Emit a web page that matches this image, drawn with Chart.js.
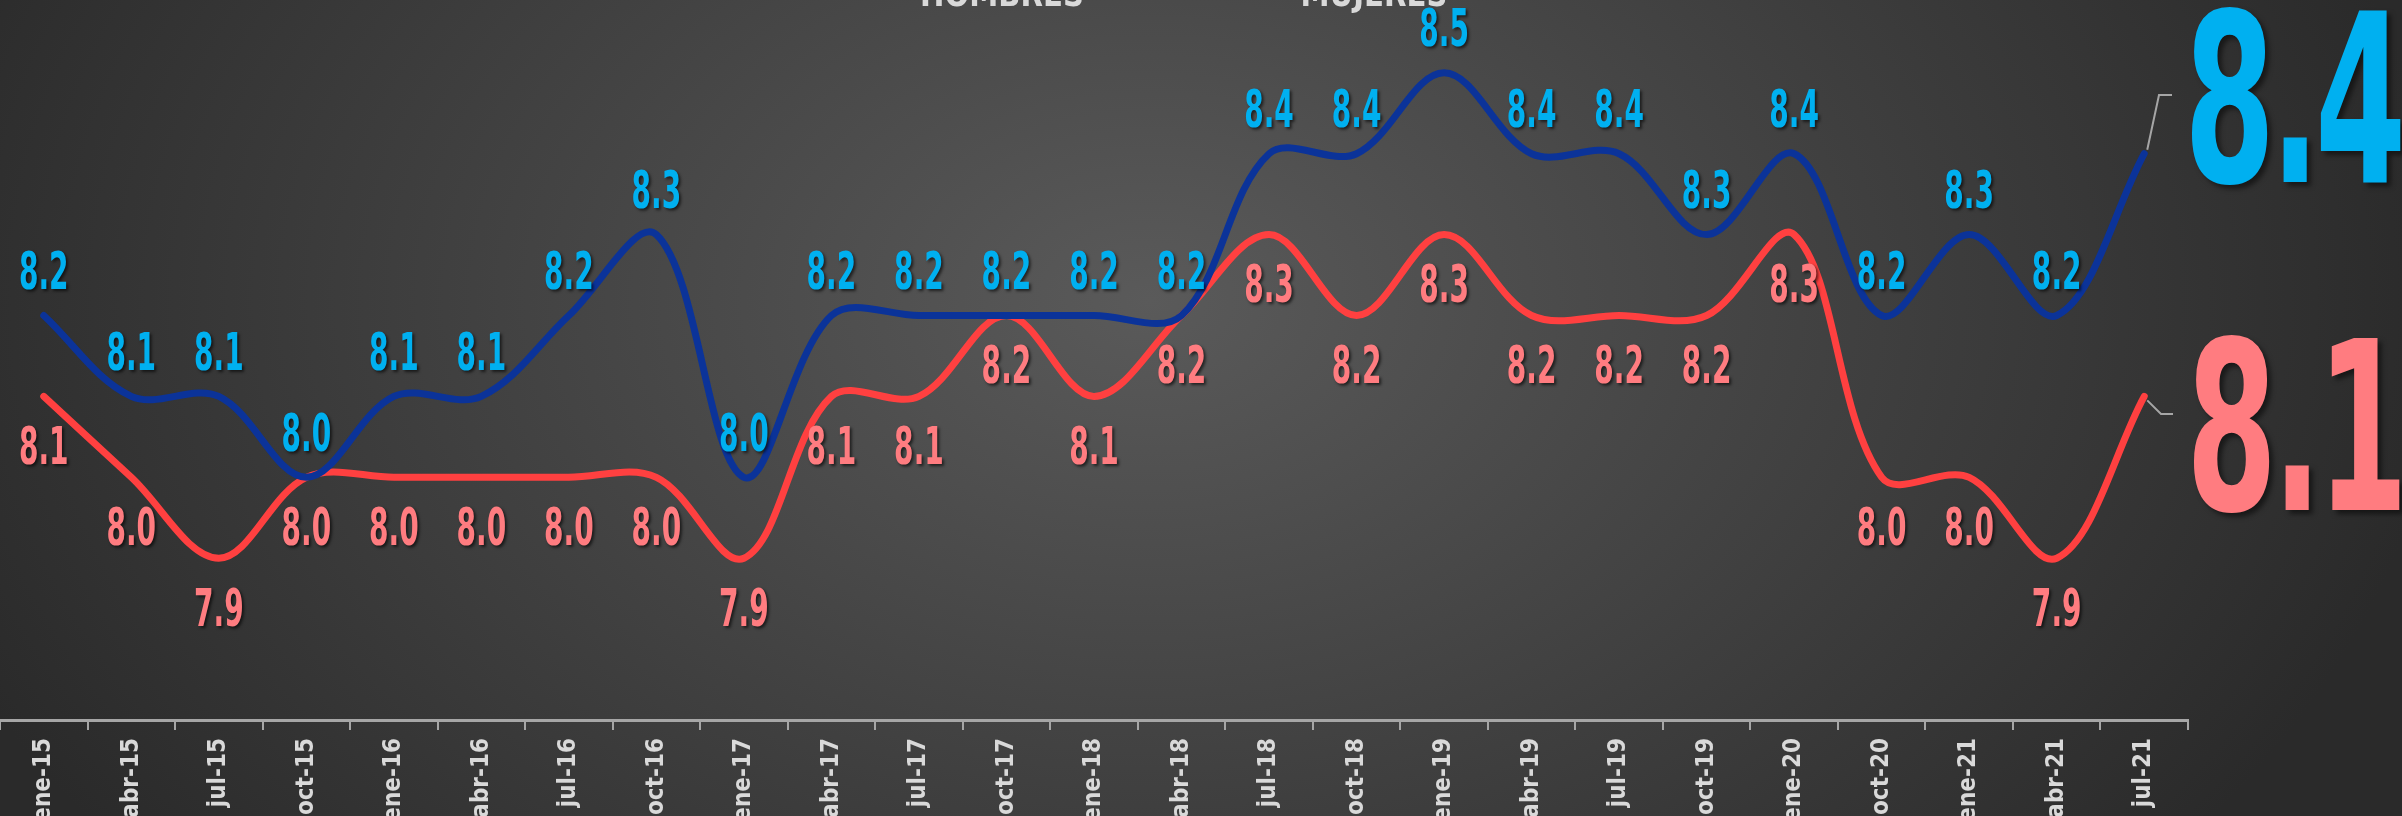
<!DOCTYPE html>
<html>
<head>
<meta charset="utf-8">
<script src="https://cdn.jsdelivr.net/npm/chart.js@4"></script>
<style>
html, body { margin: 0; padding: 0; }
body {
  width: 2402px; height: 816px; overflow: hidden;
  background: radial-gradient(ellipse 1300px 900px at 1150px 300px, #5a5a5a 0%, #2a2a2a 100%);
}
#wrap { position: relative; width: 2402px; height: 816px; }
</style>
</head>
<body>
<div id="wrap"><canvas id="grafica"></canvas></div>
<script>
const fechas = ['ene-15', 'abr-15', 'jul-15', 'oct-15', 'ene-16', 'abr-16', 'jul-16', 'oct-16',
  'ene-17', 'abr-17', 'jul-17', 'oct-17', 'ene-18', 'abr-18', 'jul-18', 'oct-18',
  'ene-19', 'abr-19', 'jul-19', 'oct-19', 'ene-20', 'oct-20', 'ene-21', 'abr-21', 'jul-21']
const hombres = [8.2, 8.1, 8.1, 8.0, 8.1, 8.1, 8.2, 8.3, 8.0, 8.2, 8.2, 8.2, 8.2,
  8.2, 8.4, 8.4, 8.5, 8.4, 8.4, 8.3, 8.4, 8.2, 8.3, 8.2, 8.4]
const mujeres = [8.1, 8.0, 7.9, 8.0, 8.0, 8.0, 8.0, 8.0, 7.9, 8.1, 8.1, 8.2, 8.1,
  8.2, 8.3, 8.2, 8.3, 8.2, 8.2, 8.2, 8.3, 8.0, 8.0, 7.9, 8.1]
const nombres = ['HOMBRES', 'MUJERES']

const fuente = "'DejaVu Sans Condensed', 'DejaVu Sans', sans-serif"
const azulLinea = '#0b3399'
const rojoLinea = '#ff4040'
const azulTexto = '#00b0f0'
const rojoTexto = '#ff7c80'

// texto estrecho tipo Agency
function textoEstrecho(ctx, t, x, y, sx, esp) {
  ctx.save()
  ctx.translate(x, y)
  ctx.scale(sx, 1)
  ctx.letterSpacing = esp + 'px'
  ctx.fillText(t, 0, 0)
  ctx.restore()
}

const etiquetas = {
  id: 'etiquetas',
  afterDatasetsDraw(chart) {
    const ctx = chart.ctx
    const n = fechas.length - 1
    ctx.save()
    ctx.shadowColor = 'rgba(0,0,0,0.6)'
    ctx.shadowOffsetX = 2
    ctx.shadowOffsetY = 2
    ctx.shadowBlur = 3
    ctx.textAlign = 'center'
    ctx.textBaseline = 'middle'
    ctx.font = 'bold 52px ' + fuente
    chart.data.datasets.forEach((ds, i) => {
      const meta = chart.getDatasetMeta(i)
      ctx.fillStyle = i === 0 ? azulTexto : rojoTexto
      meta.data.forEach((p, j) => {
        if (j === n) return
        const dy = i === 0 ? -40 : 54
        textoEstrecho(ctx, ds.data[j].toFixed(1), p.x, p.y + dy, 0.6, 0)
      })
    })

    // valores grandes a la derecha
    const pa = chart.getDatasetMeta(0).data[n]
    const pr = chart.getDatasetMeta(1).data[n]
    ctx.shadowColor = 'rgba(0,0,0,0.5)'
    ctx.shadowOffsetX = 4
    ctx.shadowOffsetY = 4
    ctx.shadowBlur = 5
    ctx.textAlign = 'left'
    ctx.textBaseline = 'alphabetic'
    ctx.font = 'bold 235px ' + fuente
    ctx.fillStyle = azulTexto
    textoEstrecho(ctx, hombres[n].toFixed(1), 2184, 182, 0.62, -8)
    ctx.fillStyle = rojoTexto
    textoEstrecho(ctx, mujeres[n].toFixed(1), 2186, 510, 0.62, -8)

    ctx.shadowColor = 'transparent'
    ctx.strokeStyle = '#a6a6a6'
    ctx.lineWidth = 2
    ctx.beginPath()
    ctx.moveTo(pa.x + 3, pa.y - 4)
    ctx.lineTo(2159, 95)
    ctx.lineTo(2172, 95)
    ctx.moveTo(pr.x + 3, pr.y + 4)
    ctx.lineTo(2161, 414)
    ctx.lineTo(2173, 414)
    ctx.stroke()

    // leyenda cortada arriba
    ctx.fillStyle = '#d9d9d9'
    ctx.textAlign = 'center'
    ctx.font = 'bold 36px ' + fuente
    textoEstrecho(ctx, nombres[0], 1002, 6, 0.9, 0)
    textoEstrecho(ctx, nombres[1], 1374, 6, 0.9, 0)
    ctx.restore()
  }
}

const grafica = new Chart(document.getElementById('grafica'), {
  type: 'line',
  data: {
    labels: fechas,
    datasets: [{
      label: nombres[0],
      data: hombres,
      borderColor: azulLinea,
      borderWidth: 7,
      tension: 0.35,
      pointRadius: 0,
      borderCapStyle: 'round',
      clip: false
    }, {
      label: nombres[1],
      data: mujeres,
      borderColor: rojoLinea,
      borderWidth: 7,
      tension: 0.35,
      pointRadius: 0,
      borderCapStyle: 'round',
      clip: false
    }]
  },
  options: {
    responsive: true,
    maintainAspectRatio: false,
    devicePixelRatio: 1,
    animation: false,
    layout: { padding: { left: 0, right: 214, top: 0, bottom: 0 } },
    plugins: { legend: { display: false }, tooltip: { enabled: false } },
    scales: {
      x: {
        offset: true,
        grid: { display: true, drawOnChartArea: false, drawTicks: true, tickLength: 10, color: '#a6a6a6', lineWidth: 2, offset: true },
        border: { display: true, color: '#a6a6a6', width: 3 },
        ticks: {
          color: '#d9d9d9',
          font: { family: fuente, size: 24, weight: 'bold' },
          minRotation: 90,
          maxRotation: 90,
          padding: 8,
          autoSkip: false
        },
        afterFit(scale) { scale.height = 96 }
      },
      y: {
        display: false,
        min: 7.7,
        max: 8.59
      }
    }
  },
  plugins: [etiquetas]
})
</script>
</body>
</html>
